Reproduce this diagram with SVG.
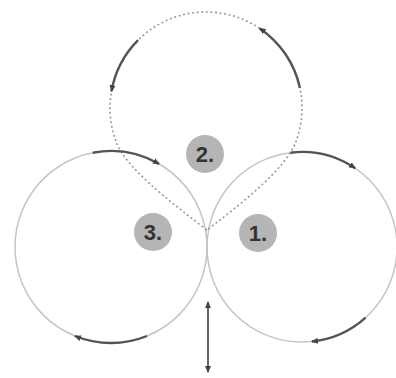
<svg xmlns="http://www.w3.org/2000/svg" width="396" height="378" viewBox="0 0 396 378">
<style>
.ring{fill:none;stroke:#c4c4c4;stroke-width:1.5}
.dash{fill:none;stroke:#9a9a9a;stroke-width:1.6;stroke-dasharray:2 2.6}
.flow{fill:none;stroke:#555;stroke-width:2.4;marker-end:url(#ah)}
.badge{fill:#b5b5b5}
.lbl{font-family:"Liberation Sans",Arial,sans-serif;font-size:22px;font-weight:bold;fill:#333;text-anchor:middle}
</style>
<defs>
<marker id="ah" markerUnits="userSpaceOnUse" markerWidth="10" markerHeight="10" refX="6" refY="3" orient="auto-start-reverse">
<path d="M0,0 L7,3 L0,6 z" fill="#444"/>
</marker>
</defs>
<rect width="396" height="378" fill="#fff"/>
<g id="node3">
<circle class="ring" cx="111" cy="247" r="96"/>
<circle class="badge" cx="153" cy="232" r="19"/>
<text class="lbl" x="153" y="240">3.</text>
</g>
<g id="node1">
<circle class="ring" cx="302" cy="247" r="95"/>
<circle class="badge" cx="258" cy="233" r="19"/>
<text class="lbl" x="258" y="241">1.</text>
</g>
<g id="node2">
<path class="dash" d="M207,230 C165,198 127,168 116.7,143.2 A96,96 0 1 1 295.3,143.2 C285,168 249,198 207,230"/>
<circle class="badge" cx="205" cy="154" r="19"/>
<text class="lbl" x="205" y="162">2.</text>
</g>
<g id="connectors">
<path class="flow" d="M92.7,152.8 A96,96 0 0 1 159,163.9"/>
<path class="flow" d="M147,336 A96,96 0 0 1 75,336"/>
<path class="flow" d="M290.4,152.7 A95,95 0 0 1 355.1,168.2"/>
<path class="flow" d="M365.6,317.6 A95,95 0 0 1 311.9,341.5"/>
<path class="flow" d="M299.9,88 A96,96 0 0 0 259.7,28.4"/>
<path class="flow" d="M138.1,40.1 A96,96 0 0 0 111.5,91.3"/>
<line x1="208" y1="302" x2="208" y2="372" stroke="#555" stroke-width="1.8" marker-start="url(#ah)" marker-end="url(#ah)"/>
</g>
</svg>
